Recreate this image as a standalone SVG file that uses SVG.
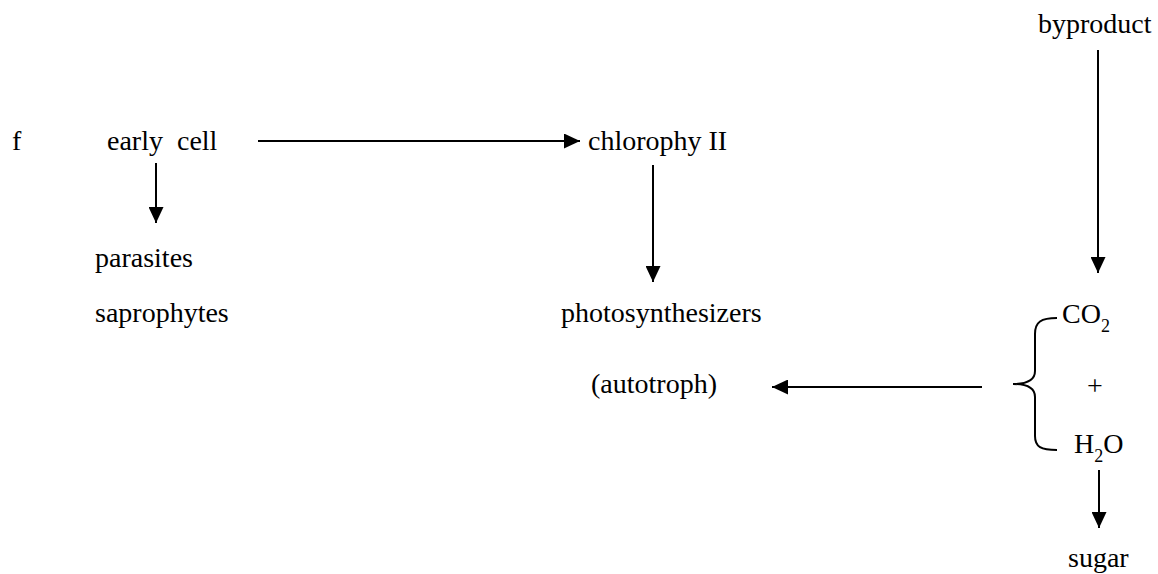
<svg xmlns="http://www.w3.org/2000/svg" width="1158" height="574" viewBox="0 0 1158 574">
  <style>
    text { font-family: "Liberation Serif", "Times New Roman", serif; font-size: 28px; fill: #000; }
    .sub { font-size: 18px; }
    .link { stroke: #000; stroke-width: 2; fill: none; marker-end: url(#head); }
    .brace { stroke: #000; stroke-width: 2; fill: none; }
  </style>
  <defs>
    <marker id="head" markerUnits="userSpaceOnUse" markerWidth="16" markerHeight="15" refX="16" refY="7.5" orient="auto">
      <path d="M0,0 L16,7.5 L0,15 z" fill="#000"/>
    </marker>
  </defs>

  <rect width="1158" height="574" fill="#fff"/>

  <g id="f"><text x="12" y="150">f</text></g>
  <g id="early-cell"><text x="107" y="150" xml:space="preserve">early  cell</text></g>
  <g id="parasites"><text x="95" y="267">parasites</text></g>
  <g id="saprophytes"><text x="95" y="322">saprophytes</text></g>
  <g id="chlorophyll"><text x="588" y="150">chlorophy II</text></g>
  <g id="photosynthesizers"><text x="561" y="322">photosynthesizers</text></g>
  <g id="autotroph"><text x="591" y="393">(autotroph)</text></g>
  <g id="byproduct"><text x="1038" y="33">byproduct</text></g>
  <g id="co2"><text x="1062" y="323">CO<tspan class="sub" dy="9">2</tspan></text></g>
  <g id="plus"><text x="1095" y="395" text-anchor="middle">+</text></g>
  <g id="h2o"><text x="1074" y="453">H<tspan class="sub" dy="9">2</tspan><tspan dy="-9">O</tspan></text></g>
  <g id="sugar"><text x="1068" y="567">sugar</text></g>
  <g id="brace">
    <path class="brace" d="M1057,318 C1041,318 1035,322 1035,334 L1035,371 C1035,380 1026,384 1013,384 C1026,384 1035,388 1035,397 L1035,436 C1035,447 1041,450 1057,450"/>
  </g>

  <g id="connectors">
    <line class="link" x1="258" y1="141" x2="580" y2="141"/>
    <line class="link" x1="156" y1="163" x2="156" y2="223"/>
    <line class="link" x1="653" y1="165" x2="653" y2="282"/>
    <line class="link" x1="1098" y1="50" x2="1098" y2="273"/>
    <line class="link" x1="1099" y1="470" x2="1099" y2="528"/>
    <line class="link" x1="982" y1="387" x2="772" y2="387"/>
  </g>
</svg>
